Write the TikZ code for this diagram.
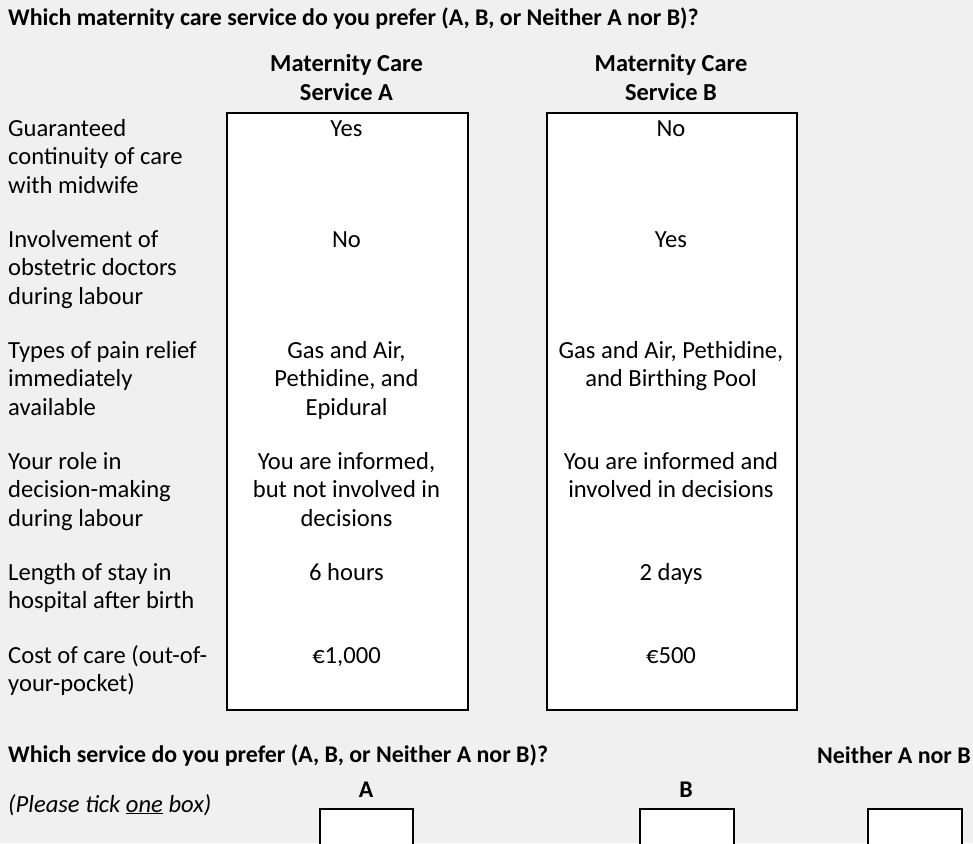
\documentclass[tikz,border=0pt]{standalone}
\usepackage{fontspec}
\setmainfont{Carlito}
\definecolor{bggray}{HTML}{F0F0F0}
\tikzset{
  txt/.style={inner sep=0pt, font=\fontsize{24.6}{28.5}\selectfont},
  lbl/.style={txt, anchor=base west, align=left},
  val/.style={txt, anchor=base, align=center},
  hdr/.style={txt, anchor=base, align=center, font=\fontsize{24.4}{28.5}\selectfont\bfseries},
  boldtxt/.style={txt, font=\fontsize{23.9}{28.5}\selectfont\bfseries},
  bigbox/.style={draw=black, line width=1.6pt, fill=white, anchor=north west, inner sep=0pt},
  tickbox/.style={draw=black, line width=1.6pt, fill=white, anchor=north west, inner sep=0pt, minimum height=60pt}
}
\begin{document}
\begin{tikzpicture}[x=1pt,y=1pt]
\fill[bggray] (0,0) rectangle (973,-843);
\useasboundingbox (0,0) rectangle (973,-843);
% title
\node[boldtxt, anchor=base west] (title) at (8,-26) {Which maternity care service do you prefer (A, B, or Neither A nor B)?};
% headers (anchor = baseline of last line)
\node[hdr] (hA) at (346.5,-100) {Maternity Care\\Service A};
\node[hdr] (hB) at (671,-100) {Maternity Care\\Service B};
% boxes
\node[bigbox, minimum width=241pt, minimum height=597pt] (boxA) at (226,-112) {};
\node[bigbox, minimum width=250pt, minimum height=597pt] (boxB) at (546,-112) {};
% row labels (anchor = baseline of last line)
\node[lbl] (l1) at (8,-193) {Guaranteed\\continuity of care\\with midwife};
\node[lbl] (l2) at (8,-304) {Involvement of\\obstetric doctors\\during labour};
\node[lbl] (l3) at (8,-415) {Types of pain relief\\immediately\\available};
\node[lbl] (l4) at (8,-526) {Your role in\\decision-making\\during labour};
\node[lbl] (l5) at (8,-608.5) {Length of stay in\\hospital after birth};
\node[lbl] (l6) at (8,-691.5) {Cost of care (out-of-\\your-pocket)};
% service A values
\node[val] (a1) at (346.5,-136) {Yes};
\node[val] (a2) at (346.5,-247) {No};
\node[val] (a3) at (346.5,-415) {Gas and Air,\\Pethidine, and\\Epidural};
\node[val] (a4) at (346.5,-526) {You are informed,\\but not involved in\\decisions};
\node[val] (a5) at (346.5,-580) {6 hours};
\node[val] (a6) at (346.5,-663) {€1,000};
% service B values
\node[val] (b1) at (671,-136) {No};
\node[val] (b2) at (671,-247) {Yes};
\node[val] (b3) at (671,-386.5) {Gas and Air, Pethidine,\\and Birthing Pool};
\node[val] (b4) at (671,-497.5) {You are informed and\\involved in decisions};
\node[val] (b5) at (671,-580) {2 days};
\node[val] (b6) at (671,-663) {€500};
% bottom question
\node[boldtxt, anchor=base west] (q) at (8,-762) {Which service do you prefer (A, B, or Neither A nor B)?};
\node[boldtxt, anchor=base west] (qn) at (817,-763) {Neither A nor B};
\node[txt, anchor=base west, font=\fontsize{24.6}{28.5}\selectfont\itshape] (tick) at (8,-812) {(Please tick \underline{one} box)};
\node[boldtxt, anchor=base] (tA) at (366,-797) {A};
\node[boldtxt, anchor=base] (tB) at (686,-797) {B};
\node[tickbox, minimum width=93pt] (cA) at (319,-808) {};
\node[tickbox, minimum width=94pt] (cB) at (639,-808) {};
\node[tickbox, minimum width=94pt] (cN) at (867,-808) {};
\end{tikzpicture}
\end{document}
